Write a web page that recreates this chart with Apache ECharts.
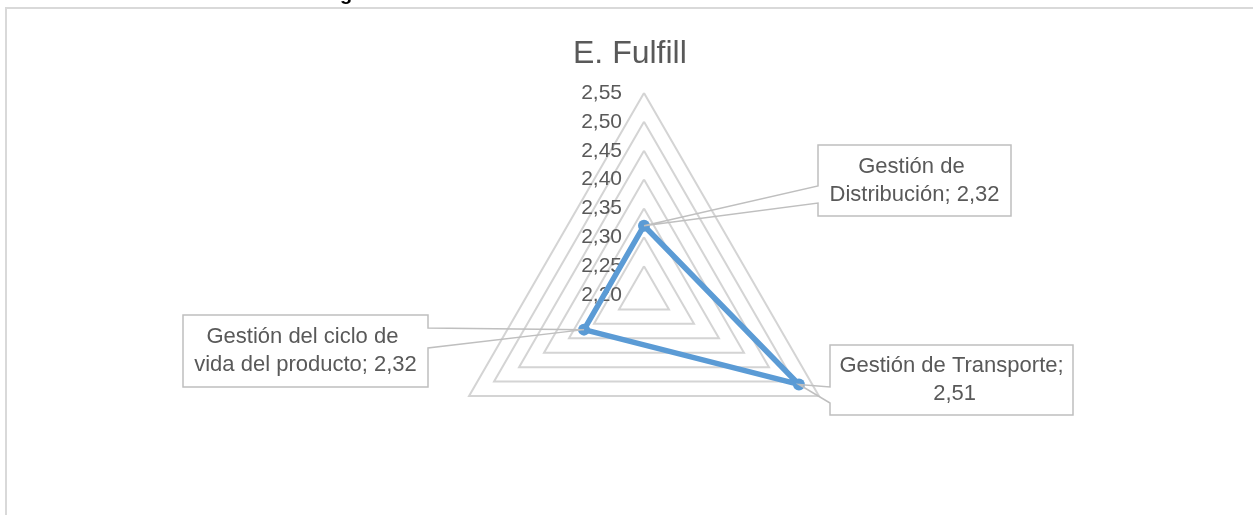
<!DOCTYPE html>
<html>
<head>
<meta charset="utf-8">
<title>E. Fulfill</title>
<script src="https://cdn.jsdelivr.net/npm/echarts@6/dist/echarts.min.js"></script>
<style>
  html, body { margin: 0; padding: 0; background: #fff; }
  #chart { width: 1253px; height: 515px; }
</style>
</head>
<body>
<div id="chart"></div>
<script>
// data, indicator order as drawn by echarts (counterclockwise from the top)
var chartTitle = 'E. Fulfill'
var indicatorNames = ['Gestión de Distribución', 'Gestión del ciclo de vida del producto', 'Gestión de Transporte']
var seriesValues = [2.32, 2.32, 2.51]
var tickValues = [2.20, 2.25, 2.30, 2.35, 2.40, 2.45, 2.50, 2.55]

// callout boxes for the data labels (box rect + where the pointer leaves the box)
var callouts = [
  { x: 818, y: 145, w: 193, h: 71, side: 'left', a: 186, b: 203 },
  { x: 183, y: 315, w: 245, h: 72, side: 'right', a: 328, b: 348 },
  { x: 830, y: 345, w: 243, h: 70, side: 'left', a: 387, b: 403 }
]

var FONT = '"Liberation Sans", Arial, sans-serif'
var GREY_TEXT = '#595959'

function fmt(v) {
  return Number(v).toFixed(2).replace('.', ',')
}

var chart = echarts.init(document.getElementById('chart'))

chart.setOption({
  backgroundColor: '#fff',
  animation: false,
  title: {
    text: chartTitle,
    left: 573,
    top: 38,
    padding: 0,
    textStyle: {
      fontFamily: FONT,
      fontWeight: 'normal',
      fontSize: 32,
      color: GREY_TEXT
    }
  },
  radar: {
    center: [644, 295],
    radius: 202,
    startAngle: 90,
    shape: 'polygon',
    splitNumber: tickValues.length - 1,
    axisName: { show: false },
    axisLine: { show: false },
    axisTick: { show: false },
    axisLabel: { show: false },
    splitArea: { show: false },
    splitLine: {
      lineStyle: { color: '#d4d4d4', width: 2 }
    },
    indicator: indicatorNames.map(function(n, i) {
      var ind = { name: n, min: tickValues[0], max: tickValues[tickValues.length - 1] }
      if (i === 0) {
        ind.axisLabel = {
          show: true,
          margin: 22,
          fontFamily: FONT,
          fontSize: 21,
          color: GREY_TEXT,
          formatter: function(v) { return fmt(v) }
        }
      }
      return ind
    })
  },
  series: [{
    type: 'radar',
    symbol: 'circle',
    symbolSize: 12,
    lineStyle: { color: '#5b9bd5', width: 5.5 },
    itemStyle: { color: '#5b9bd5' },
    data: [{ name: chartTitle, value: seriesValues }]
  }]
})

// data callouts, anchored on the points given by the radar coordinate system
var radarCs = chart.getModel().getComponent('radar', 0).coordinateSystem
var graphics = []

// chart frame (left and top edge visible)
graphics.push({
  type: 'polyline',
  silent: true,
  shape: { points: [[6, 515], [6, 8], [1253, 8]] },
  style: { stroke: '#d9d9d9', lineWidth: 2, fill: null }
})
// cut-off heading letter above the frame
graphics.push({
  type: 'text',
  silent: true,
  style: { text: 'g', x: 340, y: 4, verticalAlign: 'bottom', font: 'bold 20px ' + FONT, fill: '#000' }
})

callouts.forEach(function(c, i) {
  var p = radarCs.dataToPoint(seriesValues[i], i)
  var pts
  if (c.side === 'left') {
    pts = [[c.x, c.y], [c.x + c.w, c.y], [c.x + c.w, c.y + c.h], [c.x, c.y + c.h], [c.x, c.b], p, [c.x, c.a]]
  } else {
    pts = [[c.x, c.y], [c.x + c.w, c.y], [c.x + c.w, c.a], p, [c.x + c.w, c.b], [c.x + c.w, c.y + c.h], [c.x, c.y + c.h]]
  }
  graphics.push({
    type: 'polygon',
    silent: true,
    z: 10,
    shape: { points: pts },
    style: { fill: 'rgba(255,255,255,0)', stroke: '#bfbfbf', lineWidth: 1.5 }
  })
  graphics.push({
    type: 'text',
    silent: true,
    z: 11,
    style: {
      text: indicatorNames[i] + '; ' + fmt(seriesValues[i]),
      x: c.x + c.w / 2,
      y: c.y + c.h / 2,
      width: c.w - 6,
      overflow: 'break',
      align: 'center',
      verticalAlign: 'middle',
      lineHeight: 28,
      font: '22px ' + FONT,
      fill: GREY_TEXT
    }
  })
})

chart.setOption({ graphic: graphics })
</script>
</body>
</html>
